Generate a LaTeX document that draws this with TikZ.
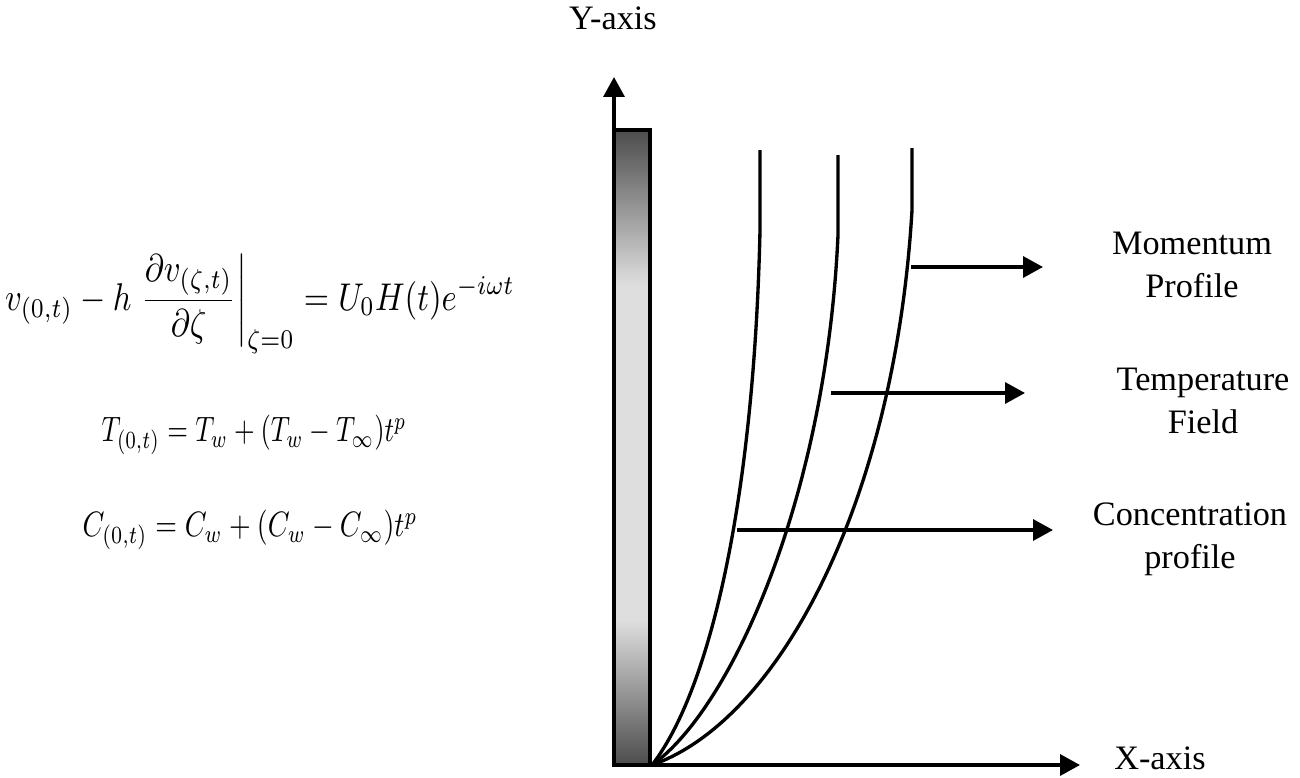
\documentclass[tikz,border=0pt]{standalone}
\usepackage{amsmath}
\usepackage{graphicx}
\usepackage{fontspec}
\setmainfont{Liberation Serif}
\usetikzlibrary{arrows.meta}
\begin{document}
\begin{tikzpicture}[x=0.02cm,y=-0.02cm,
  ax/.style={line width=1.9pt,-{Triangle[length=0.4cm,width=0.42cm]}},
  prof/.style={line width=1.9pt},
  lbl/.style={font=\fontsize{19.5}{24.5}\selectfont,align=center,inner sep=0pt},
  eqn/.style={inner sep=0pt}]
\useasboundingbox (0,0) rectangle (1300,777);
% plate
\shade[top color=black!70,bottom color=black!13] (614,130) rectangle (650,285);
\fill[black!13] (614,285) rectangle (650,620);
\shade[top color=black!13,bottom color=black!70] (614,620) rectangle (650,765);
\draw[line width=1.9pt] (614,130) rectangle (650,765);
% axes
\coordinate (O) at (614,765);
\coordinate (Ytip) at (614,77);
\coordinate (Xtip) at (1080,765);
\draw[ax] (O) -- (Ytip);
\draw[ax] (O) -- (Xtip);
% profiles
\coordinate (S) at (652,765);
\coordinate (T1) at (760,150);
\coordinate (T2) at (838,155);
\coordinate (T3) at (912,148);
\draw[prof] (S) .. controls (710,690) and (754,500) .. (760,230) -- (T1);
\draw[prof] (S) .. controls (730,710) and (826,500) .. (838,235) -- (T2);
\draw[prof] (S) .. controls (780,720) and (895,500) .. (912,210) -- (T3);
% arrows
\coordinate (m1) at (911,267);
\coordinate (m2) at (1043,267);
\coordinate (t1) at (831,393);
\coordinate (t2) at (1025,393);
\coordinate (c1) at (737,530);
\coordinate (c2) at (1053,530);
\draw[ax] (m1) -- (m2);
\draw[ax] (t1) -- (t2);
\draw[ax] (c1) -- (c2);
% labels
\node[lbl] (mom) at (1192,265) {Momentum\\Profile};
\node[lbl] (tem) at (1203,401) {Temperature\\Field};
\node[lbl] (con) at (1190,539) {Concentration\\profile};
\node[lbl] (xl) at (1160,758) {X-axis};
\node[lbl] (yl) at (613,18) {Y-axis};
% equations
\node[eqn] (eq1) at (260,304) {\resizebox*{10.2cm}{2.0cm}{$\displaystyle v_{(0,t)} - h\left.\frac{\partial v_{(\zeta,t)}}{\partial \zeta}\right|_{\zeta=0} = U_0 H(t) e^{-i\omega t}$}};
\node[eqn] (eq2) at (254,435) {\resizebox*{6.1cm}{0.78cm}{$T_{(0,t)} = T_w + (T_w - T_\infty)t^p$}};
\node[eqn] (eq3) at (250,530) {\resizebox*{6.7cm}{0.78cm}{$C_{(0,t)} = C_w + (C_w - C_\infty)t^p$}};
\end{tikzpicture}
\end{document}
